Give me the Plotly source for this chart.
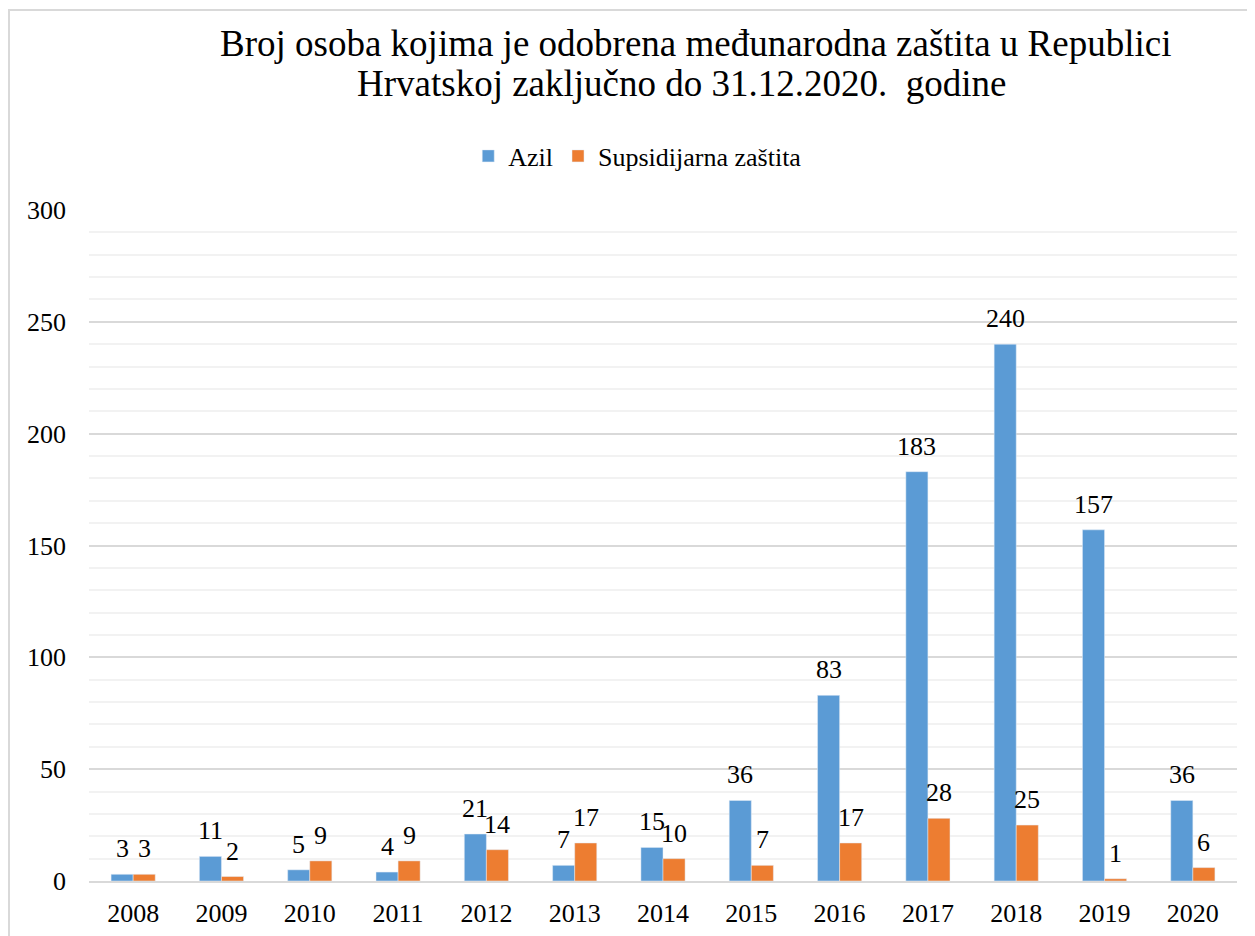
import plotly.graph_objects as go

# data
years = ["2008", "2009", "2010", "2011", "2012", "2013", "2014",
         "2015", "2016", "2017", "2018", "2019", "2020"]
azil = [3, 11, 5, 4, 21, 7, 15, 36, 83, 183, 240, 157, 36]
supsidijarna = [3, 2, 9, 9, 14, 17, 10, 7, 17, 28, 25, 1, 6]

title_line1 = "Broj osoba kojima je odobrena međunarodna zaštita u Republici"
title_line2 = "Hrvatskoj zaključno do 31.12.2020.  godine"

font_family = "Liberation Serif, Times New Roman, serif"

fig = go.Figure()

fig.add_trace(go.Bar(x=years, y=azil, name="Azil",
                     marker=dict(color="#5B9BD5")))
fig.add_trace(go.Bar(x=years, y=supsidijarna, name="Supsidijarna zaštita",
                     marker=dict(color="#ED7D31")))

# value labels above each bar; numeric-looking category names are read as
# indices by annotations, so position them by category index
# (bar width is ~22px, so shift by half of it)
for vals, shift in ((azil, -11), (supsidijarna, 11)):
    for i, v in enumerate(vals):
        fig.add_annotation(
            x=i, y=v, xref="x", yref="y", text=str(v), showarrow=False,
            xshift=shift, yshift=9, yanchor="bottom", xanchor="center",
            font=dict(size=26, family=font_family, color="#000000"),
        )

# two-line title
fig.add_annotation(text=title_line1, xref="paper", yref="paper",
                   x=0.528, y=1.2474, xanchor="center", yanchor="middle",
                   showarrow=False,
                   font=dict(size=37, family=font_family, color="#000000"))
fig.add_annotation(text=title_line2, xref="paper", yref="paper",
                   x=0.5157, y=1.1878, xanchor="center", yanchor="middle",
                   showarrow=False,
                   font=dict(size=37, family=font_family, color="#000000"))

fig.update_layout(
    width=1247, height=928,
    paper_bgcolor="white", plot_bgcolor="white",
    font=dict(family=font_family, size=26, color="#000000"),
    margin=dict(l=81, r=18, t=202, b=55),
    barmode="group", bargap=0.5, bargroupgap=0,
    legend=dict(
        orientation="h", x=0.478, xanchor="center",
        y=1.0805, yanchor="middle",
        font=dict(size=26, family=font_family),
        itemwidth=30, traceorder="normal",
    ),
    showlegend=True,
)

fig.update_xaxes(
    type="category", range=[-0.5, len(years) - 0.5], automargin=False,
    showgrid=False, showline=True, linecolor="#d9d9d9", linewidth=2,
    ticks="", ticklabelstandoff=8,
    tickfont=dict(size=26),
)
fig.update_yaxes(
    range=[0, 300], dtick=50, automargin=False,
    showgrid=True, gridcolor="#d9d9d9", gridwidth=1.5,
    minor=dict(dtick=10, showgrid=True, gridcolor="#f2f2f2", gridwidth=1.5),
    zeroline=False, showline=False,
    ticks="", ticklabelstandoff=22,
    tickfont=dict(size=26),
)

# light grey chart frame
fig.add_shape(
    type="rect", xref="paper", yref="paper",
    x0=-0.0697, x1=1.2, y0=-0.2, y1=1.298,
    line=dict(color="#d9d9d9", width=2), fillcolor="rgba(0,0,0,0)",
    layer="below",
)

fig.write_html("out.html")
